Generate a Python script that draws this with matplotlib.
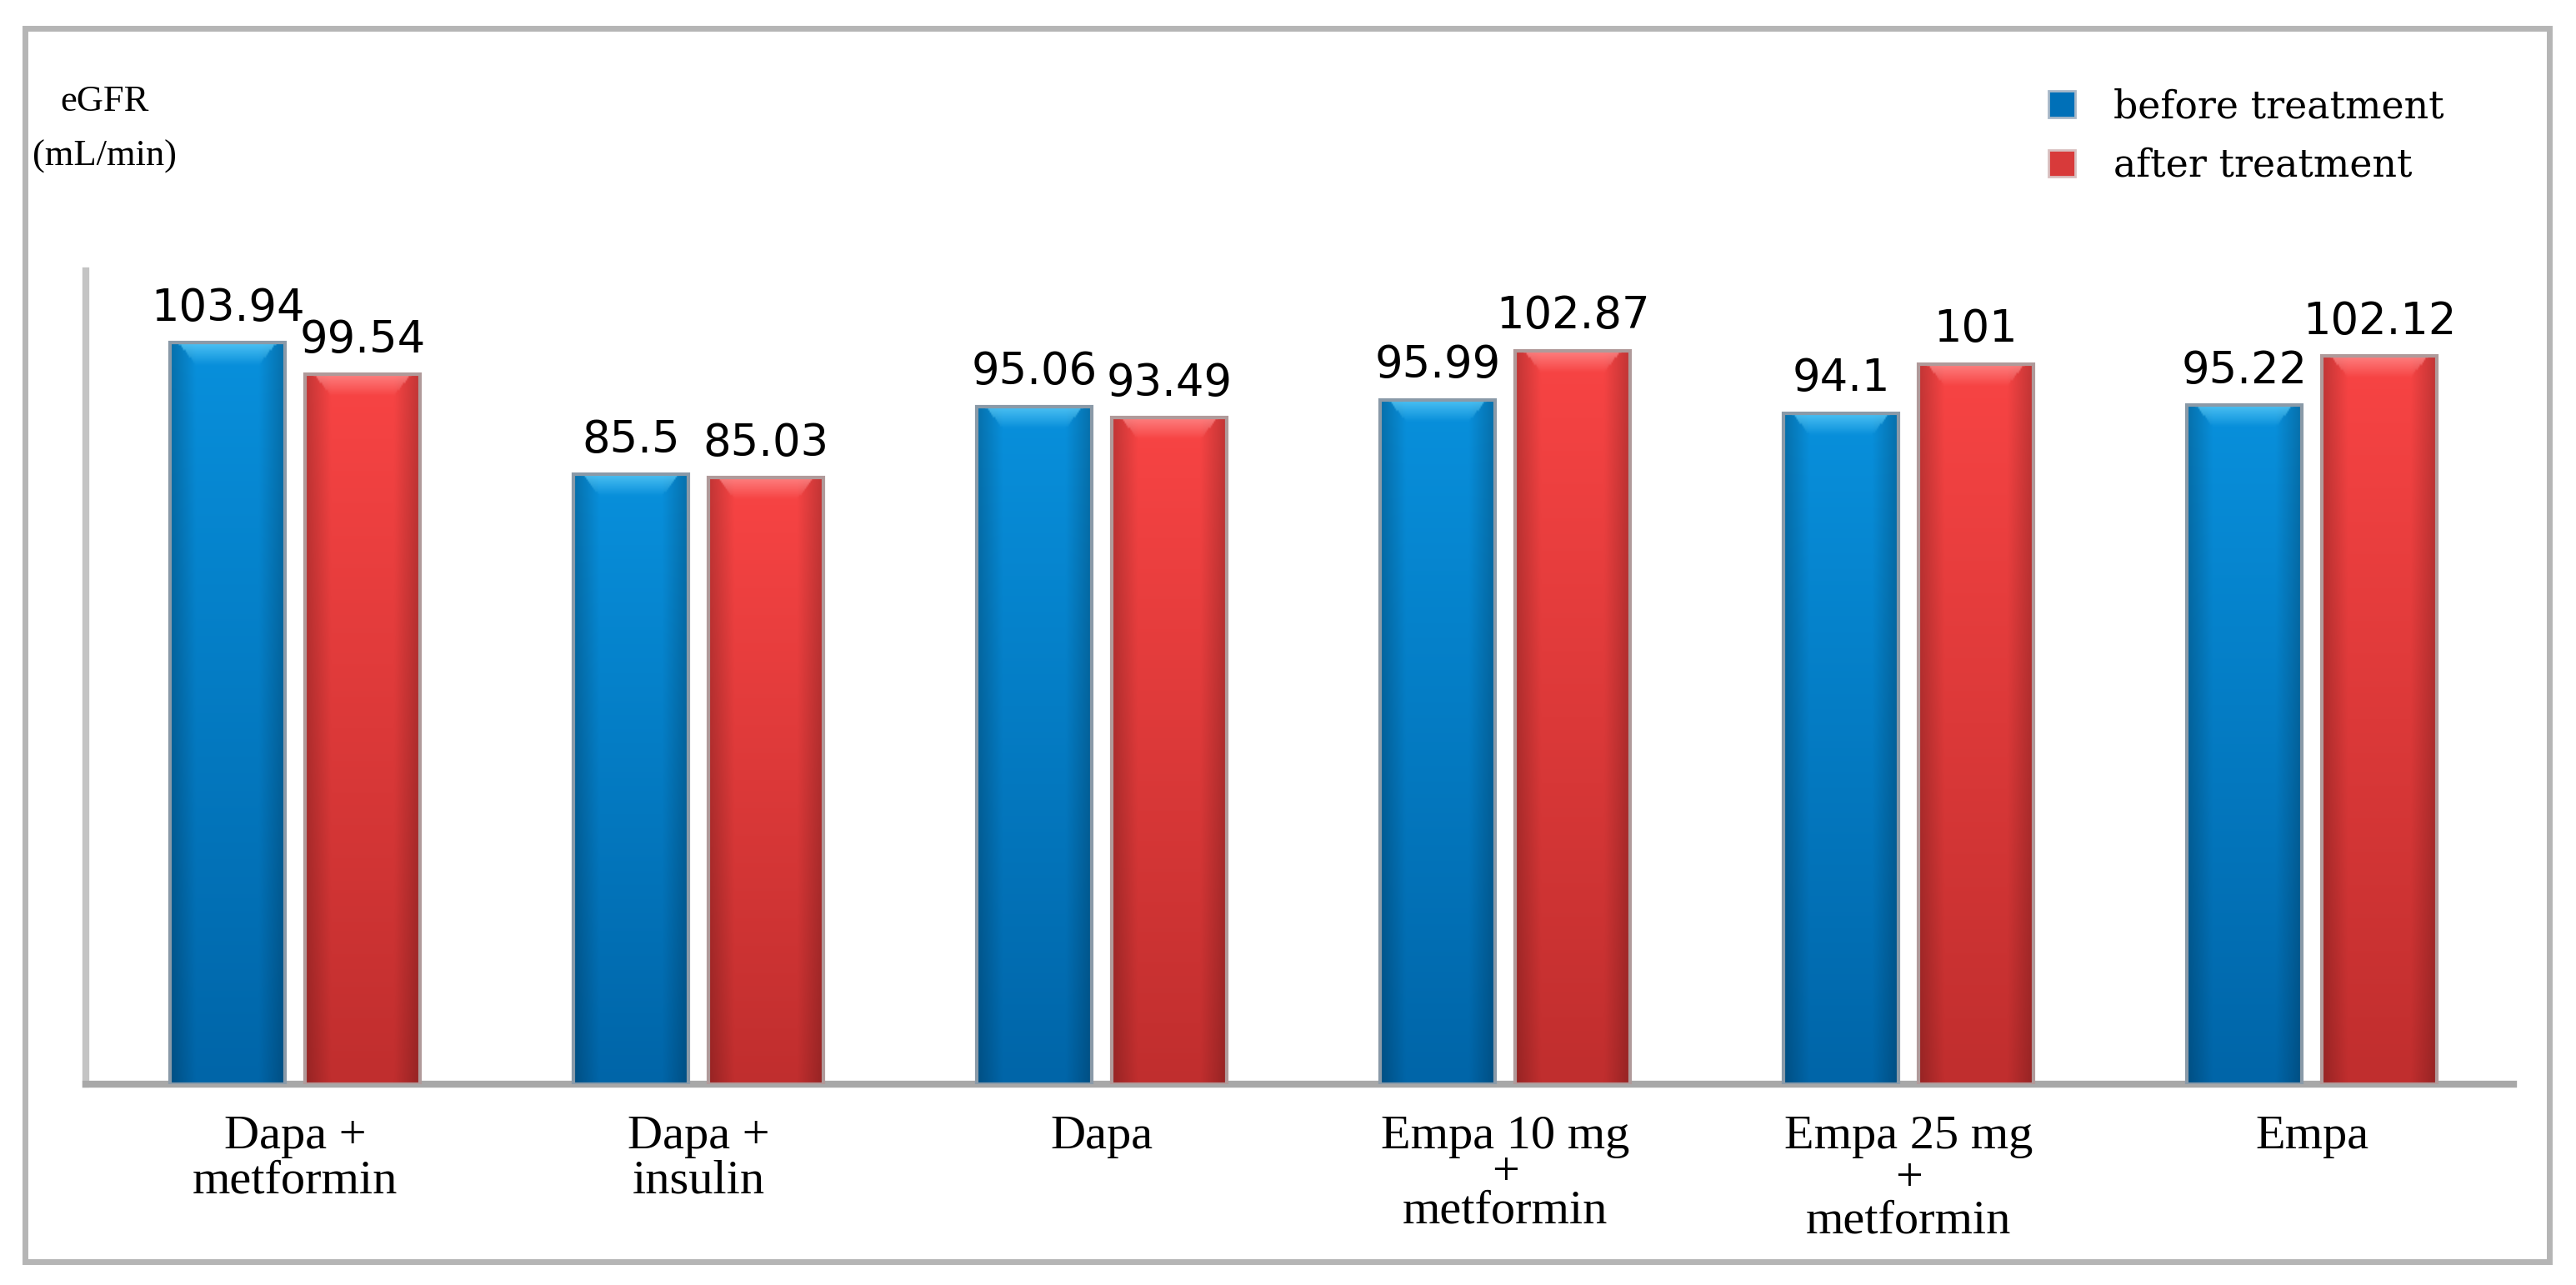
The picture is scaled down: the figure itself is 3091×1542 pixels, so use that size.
import numpy as np
import matplotlib
matplotlib.use("Agg")
import matplotlib.pyplot as plt
from matplotlib.patches import Rectangle, Patch
from matplotlib.colors import to_rgb

# data
groups = ["Dapa +\nmetformin", "Dapa +\ninsulin", "Dapa",
          "Empa 10 mg\n+\nmetformin", "Empa 25 mg\n+\nmetformin", "Empa"]
before = [103.94, 85.5, 95.06, 95.99, 94.1, 95.22]
after = [99.54, 85.03, 93.49, 102.87, 101, 102.12]
before_lbl = ["103.94", "85.5", "95.06", "95.99", "94.1", "95.22"]
after_lbl = ["99.54", "85.03", "93.49", "102.87", "101", "102.12"]

blue = dict(top="#0890dc", bot="#0065a8", hl="#5cccf8")
red = dict(top="#f84444", bot="#c02e2e", hl="#ff8e8e")

fig = plt.figure(figsize=(30.91, 15.42), dpi=100)
ax = fig.add_axes([0.0332, 0.156, 0.9426, 0.633])

# outer frame
fig.patches.append(Rectangle((0.0096, 0.018), 0.980, 0.960, transform=fig.transFigure,
                             fill=False, edgecolor="#b5b5b5", linewidth=5))

x = np.arange(len(groups))
w = 0.285
off = 0.167


def glossy(bars, c):
    top = np.array(to_rgb(c["top"]))
    bot = np.array(to_rgb(c["bot"]))
    hl = np.array(to_rgb(c["hl"]))
    for b in bars:
        x0, h, bw = b.get_x(), b.get_height(), b.get_width()
        ny, nx = 300, 80
        t = np.linspace(0, 1, ny)[:, None, None]
        img = top * (1 - t) + bot * t
        img = np.repeat(img, nx, axis=1)
        xs = np.linspace(-1, 1, nx)[None, :, None]
        edge = 1 - 0.22 * np.clip((np.abs(xs) - 0.55) / 0.45, 0, 1)
        img = img * edge
        # highlight band at the top
        frac = 3.0 / h
        rows = np.linspace(0, 1, ny)[:, None, None]
        hmask = np.clip(1 - rows / frac, 0, 1) * 0.8
        inner = (np.abs(xs) < 0.85 - 0.3 * np.clip(rows / frac, 0, 1)).astype(float)
        img = img * (1 - hmask * inner) + hl * hmask * inner
        im = ax.imshow(img, extent=(x0, x0 + bw, 0, h), aspect="auto", zorder=3,
                       interpolation="bilinear")
        im.set_clip_path(b)


b1 = ax.bar(x - off, before, w, color=blue["bot"], zorder=2)
b2 = ax.bar(x + off, after, w, color=red["bot"], zorder=2)
glossy(b1, blue)
glossy(b2, red)
ax.bar(x - off, before, w, fill=False, edgecolor="#8a9aa8", linewidth=3, zorder=4)
ax.bar(x + off, after, w, fill=False, edgecolor="#b09a9a", linewidth=3, zorder=4)

for xi, v, s in zip(x - off, before, before_lbl):
    ax.annotate(s, (xi, v), xytext=(0, 11), textcoords="offset points",
                ha="center", va="bottom", fontsize=38, family="DejaVu Sans")
for xi, v, s in zip(x + off, after, after_lbl):
    ax.annotate(s, (xi, v), xytext=(0, 11), textcoords="offset points",
                ha="center", va="bottom", fontsize=38, family="DejaVu Sans")

ax.set_xlim(-0.52, 5.5)
ax.set_ylim(0, 114)
ax.set_yticks([])
ax.set_xticks(x)
ax.set_xticklabels(groups, fontsize=42, family="Liberation Serif")
ax.tick_params(axis="x", length=0, pad=26)
for i, lab in enumerate(ax.get_xticklabels()):
    if i == 3:
        lab.set_linespacing(0.82)
    elif i == 4:
        lab.set_linespacing(0.98)
    else:
        lab.set_linespacing(1.05)

for s in ["top", "right"]:
    ax.spines[s].set_visible(False)
ax.spines["left"].set_color("#c4c4c4")
ax.spines["left"].set_linewidth(6)
ax.spines["bottom"].set_color("#a8a8a8")
ax.spines["bottom"].set_linewidth(6)

fig.text(0.0405, 0.921, "eGFR", ha="center", va="center", fontsize=32, family="Liberation Serif")
fig.text(0.0405, 0.878, "(mL/min)", ha="center", va="center", fontsize=32, family="Liberation Serif")

handles = [Patch(facecolor="#0070b8", edgecolor="#a8b8c8", linewidth=2),
           Patch(facecolor="#d83a3a", edgecolor="#d8c0c0", linewidth=2)]
ax.legend(handles, ["before treatment", "after treatment"], loc="upper left",
          bbox_to_anchor=(0.782, 0.958), bbox_transform=fig.transFigure, frameon=False,
          handlelength=0.7, handleheight=0.7, handletextpad=1.0, labelspacing=0.55,
          prop={"family": "DejaVu Serif", "size": 33})

fig.savefig("out.png", dpi=100)
